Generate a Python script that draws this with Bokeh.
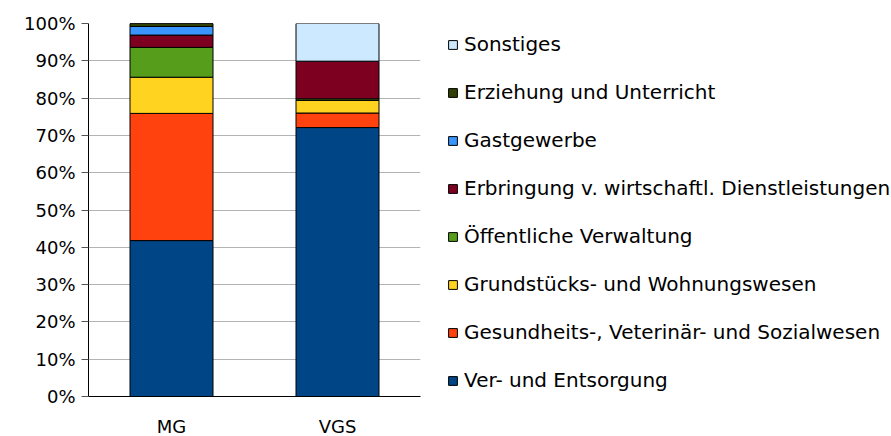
from bokeh.plotting import figure
from bokeh.models import FixedTicker, Legend, LegendItem, ColumnDataSource, NumeralTickFormatter
from bokeh.embed import file_html
from bokeh.resources import INLINE

categories = ["MG", "VGS"]
series = ["Ver- und Entsorgung", "Gesundheits-, Veterinär- und Sozialwesen",
          "Grundstücks- und Wohnungswesen", "Öffentliche Verwaltung",
          "Erbringung v. wirtschaftl. Dienstleistungen", "Gastgewerbe",
          "Erziehung und Unterricht", "Sonstiges"]
ver = [41.8, 72.1]
gesund = [34.1, 3.9]
grund = [9.7, 3.4]
oeff = [8.0, 0.4]
erbr = [3.3, 10.1]
gast = [2.3, 0.0]
erz = [0.8, 0.0]
sonst = [0.0, 10.1]
colors = ["#004586", "#ff420e", "#ffd320", "#579d1c", "#7e0021", "#3a95ff", "#314004", "#cce9ff"]
yticks = [0, 10, 20, 30, 40, 50, 60, 70, 80, 90, 100]

FONT = "DejaVu Sans"
data = {"x": [i + 0.5 for i in range(len(categories))]}
keys = ["s%d" % i for i in range(len(series))]
for k, vals in zip(keys, [ver, gesund, grund, oeff, erbr, gast, erz, sonst]):
    data[k] = [v / 100 for v in vals]
src = ColumnDataSource(data)

p = figure(frame_width=332, frame_height=373, output_backend="svg", toolbar_location=None,
           x_range=(0, len(categories)), y_range=(0, 1),
           min_border_left=88, min_border_right=0, min_border_top=23, min_border_bottom=0)
p.outline_line_color = None
renderers = p.vbar_stack(keys, x="x", width=0.5, source=src, fill_color=colors,
                         line_color="black", line_width=1)

p.xgrid.grid_line_color = None
p.ygrid.grid_line_color = "#b3b3b3"
p.ygrid.ticker = FixedTicker(ticks=[t / 100 for t in yticks])

p.yaxis.ticker = FixedTicker(ticks=[t / 100 for t in yticks], minor_ticks=[])
p.yaxis.formatter = NumeralTickFormatter(format="0%")
p.yaxis.major_tick_in = 0
p.yaxis.major_tick_out = 7
p.yaxis.minor_tick_line_color = None
p.yaxis.major_label_standoff = 6

p.xaxis.ticker = FixedTicker(ticks=data["x"], minor_ticks=list(range(len(categories) + 1)))
p.xaxis.major_label_overrides = {x: c for x, c in zip(data["x"], categories)}
p.xaxis.major_tick_in = 0
p.xaxis.major_tick_out = 0
p.xaxis.minor_tick_in = 0
p.xaxis.minor_tick_out = 7
p.xaxis.major_label_standoff = 12

for ax in (p.xaxis, p.yaxis):
    ax.axis_line_color = "black"
    ax.major_tick_line_color = "#555555"
    ax.minor_tick_line_color = "#555555" if ax is p.xaxis else None
    ax.major_label_text_font = FONT
    ax.major_label_text_font_size = "18px"
    ax.major_label_text_color = "black"

items = [LegendItem(label=s, renderers=[r]) for s, r in zip(series, renderers)][::-1]
legend = Legend(items=items, location=(27, 4), orientation="vertical",
                padding=0, margin=0, border_line_color=None, background_fill_alpha=0,
                glyph_width=11, glyph_height=11, label_height=20, spacing=24,
                label_standoff=6, label_text_font=FONT, label_text_font_size="20px",
                label_text_color="black")
p.add_layout(legend, "right")

open("out.html", "w").write(file_html(p, INLINE))
